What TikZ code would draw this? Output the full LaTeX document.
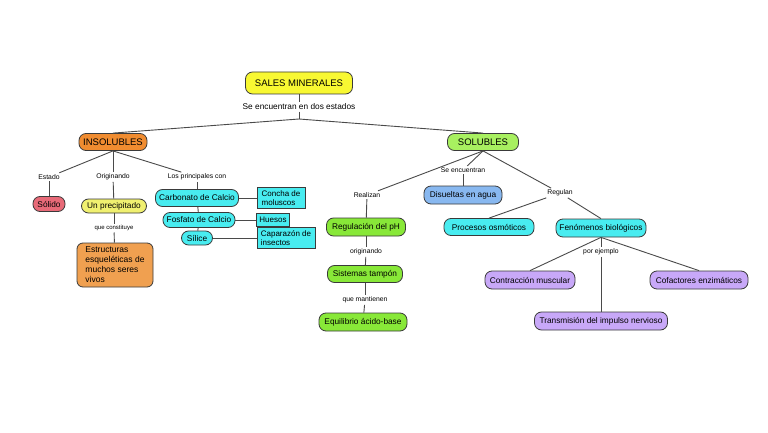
\documentclass[tikz,border=0pt]{standalone}
\usepackage{fontspec}
\setmainfont{Liberation Sans}
\definecolor{cyellow}{HTML}{F8F832}
\definecolor{cpaleyellow}{HTML}{F0F070}
\definecolor{corange}{HTML}{F08C30}
\definecolor{corange2}{HTML}{F0A050}
\definecolor{cred}{HTML}{E86A78}
\definecolor{clgreen}{HTML}{A8F060}
\definecolor{cgreen}{HTML}{88E838}
\definecolor{ccyan}{HTML}{48ECF0}
\definecolor{cblue}{HTML}{88B8F0}
\definecolor{cpurple}{HTML}{C8A8F8}
\definecolor{cborder}{HTML}{3A3A3A}
\definecolor{cline}{HTML}{4A4A4A}
\begin{document}
\begin{tikzpicture}[x=1pt,y=-1pt,
  concept/.style={draw=cborder, line width=0.8pt, rounded corners=7pt, inner sep=1pt,
    font=\fontsize{8.3}{9}\selectfont, align=center},
  sqbox/.style={draw=cborder, line width=0.8pt, inner sep=1.5pt, fill=ccyan,
    font=\fontsize{8}{8.6}\selectfont, align=left, anchor=center},
  lab/.style={inner sep=1.5pt, font=\fontsize{6.8}{8}\selectfont},
  conn/.style={draw=cline, line width=0.9pt}]
\useasboundingbox (0,0) rectangle (768,433);
\fill[white] (0,0) rectangle (768,433);

% nodes
\node[concept, fill=cyellow, minimum width=107pt, minimum height=22pt, font=\fontsize{9.5}{11}\selectfont] (sales) at (299,83) {SALES MINERALES};
\node[lab, font=\fontsize{8.3}{9}\selectfont] (l0) at (299,107) {Se encuentran en dos estados};
\coordinate (j1) at (299,119);

\node[concept, fill=corange, minimum width=68pt, minimum height=17pt, font=\fontsize{9.5}{11}\selectfont] (insol) at (113,142) {INSOLUBLES};
\node[concept, fill=clgreen, minimum width=71pt, minimum height=17pt, font=\fontsize{9.5}{11}\selectfont] (sol) at (483,142) {SOLUBLES};

\node[lab] (lest) at (49,177) {Estado};
\node[lab] (lori) at (113,177) {Originando};
\node[lab] (lpri) at (197,177) {Los principales con};

\node[concept, fill=cred, minimum width=32pt, minimum height=15pt] (solido) at (49,204) {Sólido};
\node[concept, fill=cpaleyellow, minimum width=65pt, minimum height=14pt] (precip) at (114,206) {Un precipitado};
\node[lab, font=\fontsize{6}{7}\selectfont] (lcons) at (114,228) {que constituye};
\node[concept, fill=corange2, rounded corners=6pt, minimum width=76pt, align=left, minimum height=44pt, inner xsep=4pt, font=\fontsize{8.5}{10}\selectfont] (estr) at (115,265) {Estructuras\\esqueléticas de\\muchos seres\\vivos\hspace*{36pt}};

\node[concept, fill=ccyan, minimum width=83pt, minimum height=17pt] (carb) at (197,198) {Carbonato de Calcio};
\node[concept, fill=ccyan, minimum width=72pt, minimum height=15pt] (fosf) at (199,220) {Fosfato de Calcio};
\node[concept, fill=ccyan, minimum width=31pt, minimum height=14pt] (sil) at (197,238) {Sílice};

\node[sqbox, minimum width=48pt, minimum height=21pt] (concha) at (281,198) {Concha de\\moluscos};
\node[sqbox, minimum width=33pt, minimum height=13pt] (huesos) at (273,220) {Huesos};
\node[sqbox, minimum width=58pt, minimum height=21pt] (capar) at (286,238) {Caparazón de\\insectos};

\node[lab] (lrea) at (367,195) {Realizan};
\node[lab] (lse) at (463,170) {Se encuentran};
\node[lab] (lreg) at (560,193) {Regulan};

\node[concept, fill=cgreen, minimum width=79pt, minimum height=18pt] (regph) at (366,227) {Regulación del pH};
\node[lab] (lorig) at (366,252) {originando};
\node[concept, fill=cgreen, minimum width=75pt, minimum height=17pt] (sist) at (365,274) {Sistemas tampón};
\node[lab] (lman) at (365,300) {que mantienen};
\node[concept, fill=cgreen, minimum width=88pt, minimum height=18pt] (equil) at (363,322) {Equilibrio ácido-base};

\node[concept, fill=cblue, minimum width=78pt, minimum height=18pt] (disu) at (463,195) {Disueltas en agua};
\node[concept, fill=ccyan, minimum width=90pt, minimum height=17pt] (proc) at (489,227) {Procesos osmóticos};
\node[concept, fill=ccyan, minimum width=90pt, minimum height=18pt] (fen) at (601,228) {Fenómenos biológicos};
\node[lab] (lejem) at (601,252) {por ejemplo};

\node[concept, fill=cpurple, minimum width=90pt, minimum height=18pt] (contr) at (530,280) {Contracción muscular};
\node[concept, fill=cpurple, minimum width=98pt, minimum height=18pt] (cof) at (699,280) {Cofactores enzimáticos};
\node[concept, fill=cpurple, minimum width=133pt, minimum height=18pt] (trans) at (601,321) {Transmisión del impulso nervioso};

% connectors
\draw[conn] (sales) -- (l0);
\draw[conn] (l0) -- (j1);
\draw[conn] (j1) -- (insol.north);
\draw[conn] (j1) -- (sol.north);

\draw[conn] (insol.south) -- (lest);
\draw[conn] (insol.south) -- (lori);
\draw[conn] (insol.south) -- (lpri);
\draw[conn] (lest) -- (solido);
\draw[conn] (lori) -- (precip);
\draw[conn] (precip) -- (lcons);
\draw[conn] (lcons) -- (estr);
\draw[conn] (lpri) -- (carb);
\draw[conn] (carb) -- (fosf);
\draw[conn] (fosf) -- (sil);
\draw[conn] (carb.east) -- (concha.west);
\draw[conn] (fosf.east) -- (huesos.west);
\draw[conn] (sil.east) -- (capar.west);

\draw[conn] (sol.south) -- (lrea);
\draw[conn] (sol.south) -- (lse);
\draw[conn] (sol.south) -- (lreg);
\draw[conn] (lrea) -- (regph);
\draw[conn] (regph) -- (lorig);
\draw[conn] (lorig) -- (sist);
\draw[conn] (sist) -- (lman);
\draw[conn] (lman) -- (equil);
\draw[conn] (lse) -- (disu);
\draw[conn] (lreg) -- (proc.north);
\draw[conn] (lreg) -- (fen.north);
\draw[conn] (fen.south) -- (lejem);
\draw[conn] (lejem) -- (trans);
\draw[conn] (fen.south) -- (contr.north);
\draw[conn] (fen.south) -- (cof.north);
\end{tikzpicture}
\end{document}
